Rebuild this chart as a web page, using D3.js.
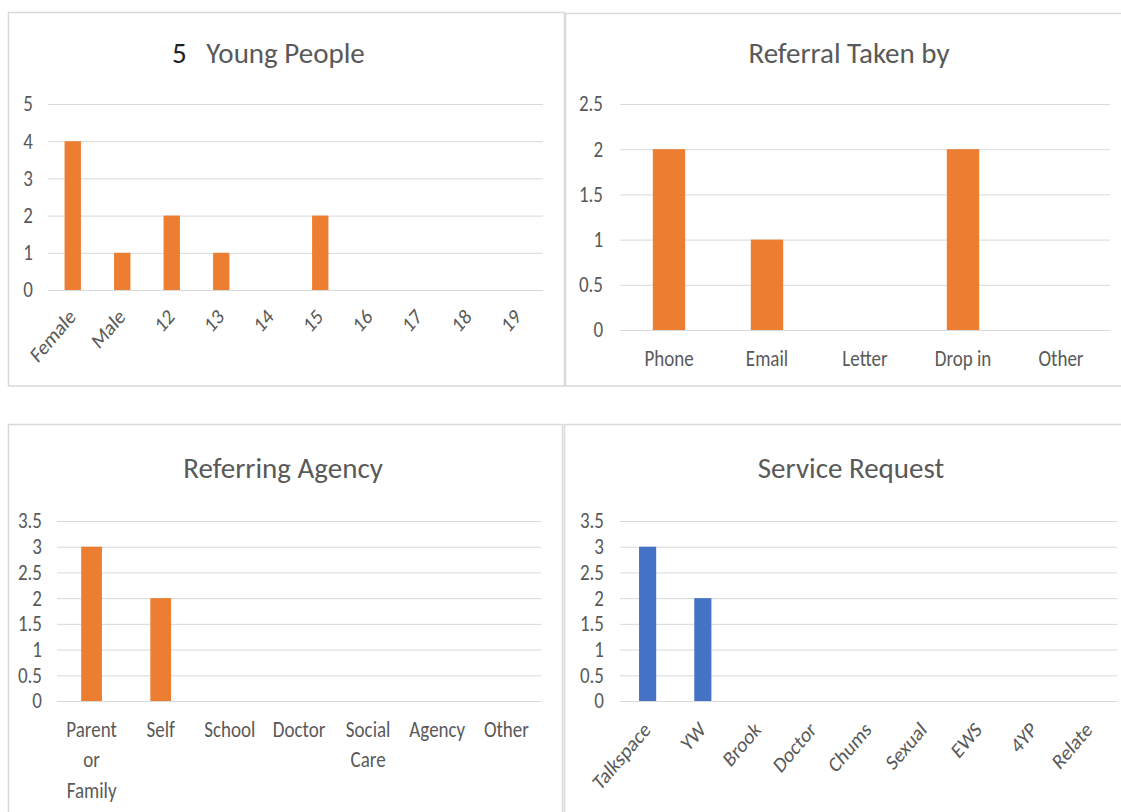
<!DOCTYPE html>
<html>
<head>
<meta charset="utf-8">
<script src="https://cdn.jsdelivr.net/npm/d3@7"></script>
<style>
  body { margin: 0; background: #fff; }
  svg text { font-family: Carlito, "Liberation Sans Narrow", "DejaVu Sans Condensed", sans-serif; fill: #595959; }
</style>
</head>
<body>
<div id="chart"></div>
<script>
// ---- data ----
const youngCats = ["Female", "Male", "12", "13", "14", "15", "16", "17", "18", "19"];
const youngVals = [4, 1, 2, 1, 0, 2, 0, 0, 0, 0];
const youngTicks = [0, 1, 2, 3, 4, 5];

const takenCats = ["Phone", "Email", "Letter", "Drop in", "Other"];
const takenVals = [2, 1, 0, 2, 0];
const takenTicks = [0, 0.5, 1, 1.5, 2, 2.5];

const agencyCats = ["Parent\nor\nFamily", "Self", "School", "Doctor", "Social\nCare", "Agency", "Other"];
const agencyVals = [3, 2, 0, 0, 0, 0, 0];
const agencyTicks = [0, 0.5, 1, 1.5, 2, 2.5, 3, 3.5];

const serviceCats = ["Talkspace", "YW", "Brook", "Doctor", "Chums", "Sexual", "EWS", "4YP", "Relate"];
const serviceVals = [3, 2, 0, 0, 0, 0, 0, 0, 0];
const serviceTicks = [0, 0.5, 1, 1.5, 2, 2.5, 3, 3.5];

const ORANGE = "#ed7d31";
const BLUE = "#4472c4";
const STRETCH = 1.13; // the source screenshot is a bit taller than wide

const svg = d3.select("#chart").append("svg")
  .attr("width", 1121)
  .attr("height", 812);

// one bordered excel-style column chart
function drawPanel(cfg) {
  const g = svg.append("g");

  g.append("rect")
    .attr("x", cfg.box[0]).attr("y", cfg.box[1])
    .attr("width", cfg.box[2]).attr("height", cfg.box[3])
    .attr("fill", "#fff")
    .attr("stroke", "#d9d9d9")
    .attr("stroke-width", 1.5);

  const x = d3.scaleBand()
    .domain(cfg.cats)
    .range([cfg.left, cfg.right])
    .paddingInner(cfg.pad)
    .paddingOuter(cfg.pad / 2);

  const y = d3.scaleLinear()
    .domain([0, d3.max(cfg.ticks)])
    .range([cfg.bottom, cfg.top]);

  // gridlines + y labels via axis
  const yAxis = g.append("g")
    .attr("transform", `translate(${cfg.left},0)`)
    .call(d3.axisLeft(y)
      .tickValues(cfg.ticks)
      .tickFormat(d3.format("~g"))
      .tickSize(-(cfg.right - cfg.left))
      .tickPadding(cfg.left - cfg.yLabelX));
  yAxis.select(".domain").remove();
  yAxis.selectAll(".tick line").attr("stroke", "#d9d9d9").attr("stroke-width", 1);
  yAxis.selectAll(".tick text")
    .attr("font-size", 19)
    .attr("fill", "#595959")
    .attr("transform", `scale(1,${STRETCH})`)
    .style("font-family", null);

  // bars
  g.selectAll(".bar")
    .data(cfg.vals)
    .join("rect")
    .attr("x", (d, i) => x(cfg.cats[i]))
    .attr("y", d => y(d))
    .attr("width", x.bandwidth())
    .attr("height", d => y(0) - y(d))
    .attr("fill", cfg.color);

  const cx = d => x(d) + x.bandwidth() / 2;

  // category labels
  const labs = g.selectAll(".xlab")
    .data(cfg.cats)
    .join("text");

  if (cfg.rotate) {
    labs.attr("text-anchor", "end")
      .attr("font-size", 18)
      .attr("transform", d => `translate(${cx(d) + 4},${cfg.bottom + cfg.labOff}) scale(1.04,1.22) rotate(-45)`)
      .text(d => d);
  } else {
    labs.attr("text-anchor", "middle")
      .attr("font-size", 19)
      .attr("transform", d => `translate(${cx(d)},${cfg.bottom + cfg.labOff}) scale(1,${STRETCH})`)
      .each(function (d) {
        const t = d3.select(this);
        d.split("\n").forEach((line, k) => {
          t.append("tspan")
            .attr("x", 0)
            .attr("dy", k === 0 ? 0 : 30.5 / STRETCH)
            .text(line);
        });
      });
  }

  // title
  const title = g.append("text")
    .attr("x", cfg.titleX)
    .attr("y", cfg.titleY)
    .attr("font-size", 29)
    .attr("text-anchor", cfg.titleAnchor || "middle");
  cfg.title.forEach(part => {
    title.append("tspan").attr("fill", part.color).text(part.text);
  });
}

drawPanel({
  box: [8.5, 12.5, 556, 373.5],
  cats: youngCats, vals: youngVals, ticks: youngTicks,
  left: 48, right: 543, top: 104, bottom: 290, pad: 0.67,
  yLabelX: 33, color: ORANGE, rotate: true, labOff: 28,
  title: [{ text: "5", color: "#222" }, { text: "\u00a0\u00a0\u00a0Young People", color: "#595959" }],
  titleX: 172, titleY: 63, titleAnchor: "start"
});

drawPanel({
  box: [565.5, 13.5, 570, 372.5],
  cats: takenCats, vals: takenVals, ticks: takenTicks,
  left: 620, right: 1110, top: 104, bottom: 330, pad: 0.67,
  yLabelX: 603, color: ORANGE, rotate: false, labOff: 36,
  title: [{ text: "Referral Taken by", color: "#595959" }],
  titleX: 849, titleY: 63
});

drawPanel({
  box: [8.5, 424.5, 554, 400],
  cats: agencyCats, vals: agencyVals, ticks: agencyTicks,
  left: 57, right: 541, top: 521, bottom: 701, pad: 0.70,
  yLabelX: 42, color: ORANGE, rotate: false, labOff: 36,
  title: [{ text: "Referring Agency", color: "#595959" }],
  titleX: 283, titleY: 478
});

drawPanel({
  box: [564.5, 424.5, 600, 400],
  cats: serviceCats, vals: serviceVals, ticks: serviceTicks,
  left: 620, right: 1117, top: 521, bottom: 701, pad: 0.69,
  yLabelX: 604, color: BLUE, rotate: true, labOff: 30,
  title: [{ text: "Service Request", color: "#595959" }],
  titleX: 851, titleY: 478
});
</script>
</body>
</html>
